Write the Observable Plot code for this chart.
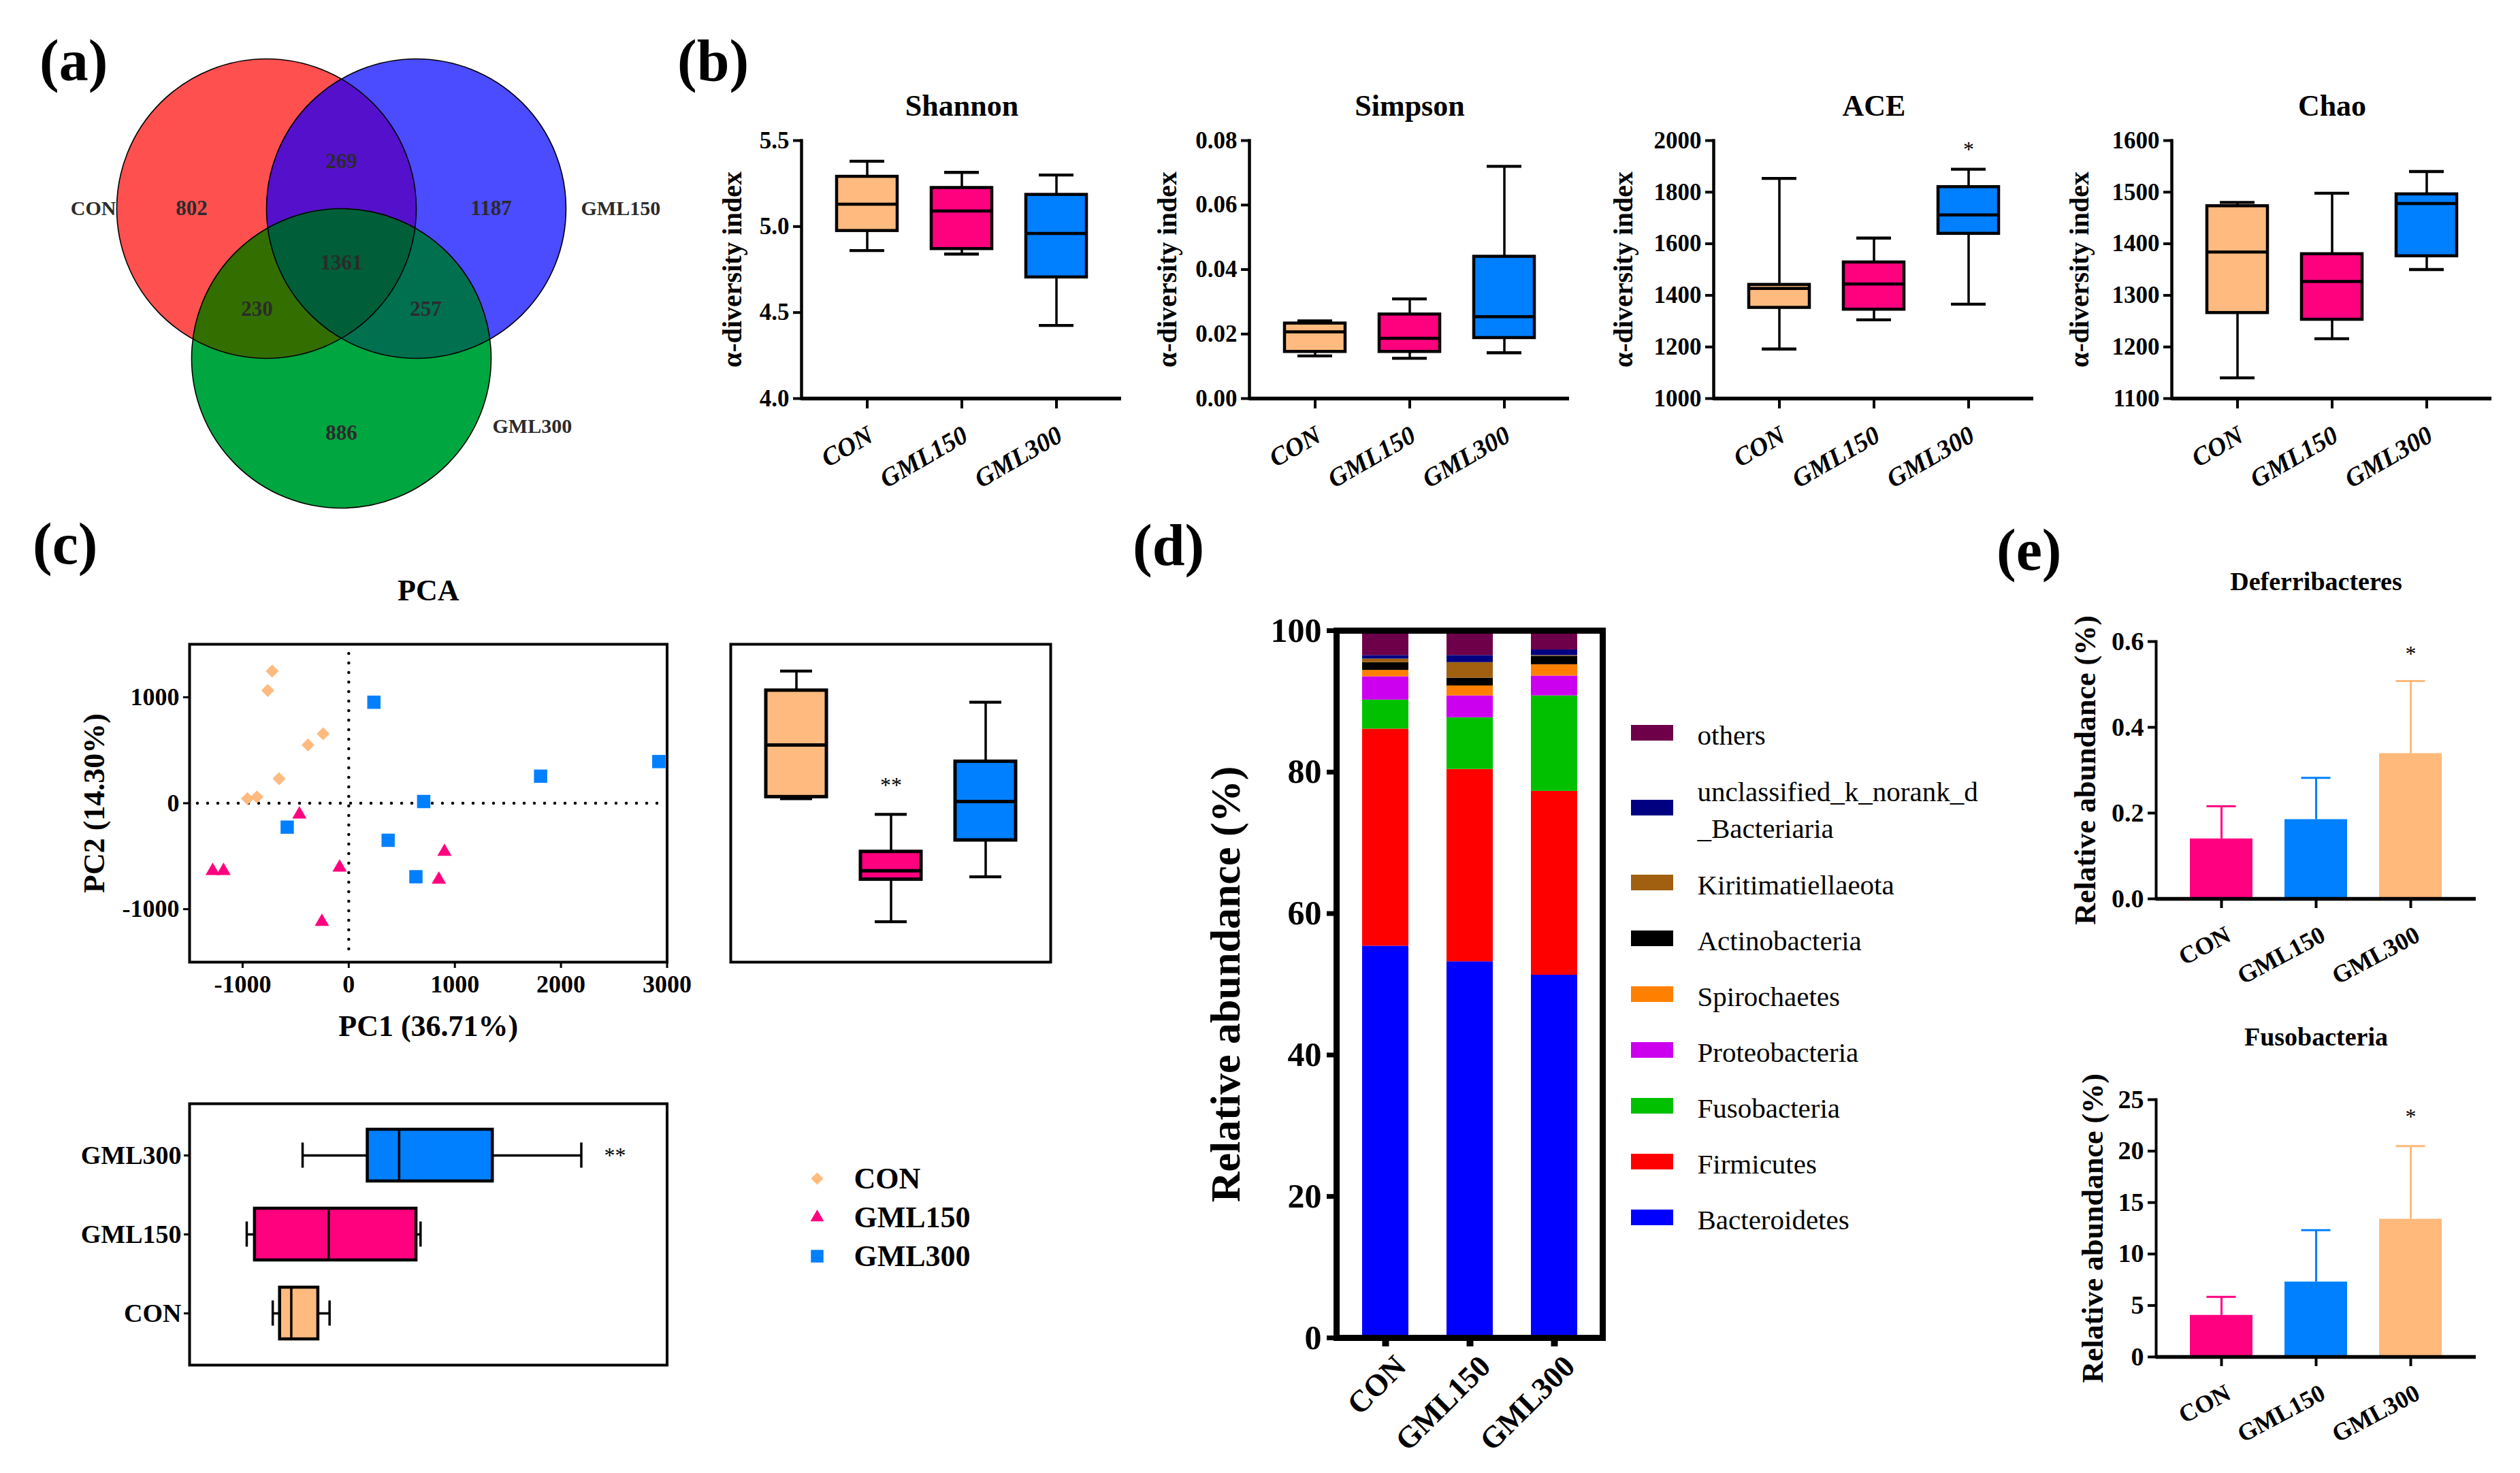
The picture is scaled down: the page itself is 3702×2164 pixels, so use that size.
<!DOCTYPE html>
<html><head><meta charset="utf-8">
<script src="https://cdn.jsdelivr.net/npm/d3@7"></script>
<script src="https://cdn.jsdelivr.net/npm/@observablehq/plot@0.6"></script>
<style>
html,body{margin:0;padding:0;background:#fff;overflow:hidden;}
#page{position:relative;width:3702px;height:2164px;overflow:hidden;background:#fff;font-family:'Liberation Serif','Times New Roman',Times,serif;}
.plabel{position:absolute;font-weight:bold;font-size:86px;line-height:1;white-space:nowrap;}
</style></head><body><div id="page"></div>
<script>
// ---------------- DATA ----------------
const groups = ["CON", "GML150", "GML300"];

// (a) Venn: region membership and OTU counts
const vennRegionSets = [["CON"], ["GML150"], ["GML300"], ["CON","GML150"], ["CON","GML300"], ["GML150","GML300"], ["CON","GML150","GML300"]];
const vennRegionCounts = [802, 1187, 886, 269, 230, 257, 1361];

// (b) alpha diversity, five-number summaries [min, q1, median, q3, max] per group
const alphaTitles = ["Shannon", "Simpson", "ACE", "Chao"];
const shannonStats = [[4.86, 4.975, 5.13, 5.29, 5.38], [4.84, 4.87, 5.09, 5.225, 5.315], [4.425, 4.705, 4.96, 5.185, 5.30]];
const simpsonStats = [[0.0132, 0.0145, 0.0207, 0.0233, 0.0241], [0.0125, 0.0145, 0.0187, 0.0261, 0.0309], [0.0142, 0.0188, 0.0254, 0.0440, 0.0720]];
const aceStats = [[1192, 1352, 1427, 1441, 1853], [1305, 1345, 1444, 1528, 1622], [1366, 1639, 1712, 1820, 1889]];
const chaoStats = [[1140, 1266, 1384, 1473, 1480], [1216, 1253, 1327, 1380, 1498], [1350, 1376, 1478, 1496, 1540]];
const shannonTicks = [4.0, 4.5, 5.0, 5.5];
const simpsonTicks = [0, 0.02, 0.04, 0.06, 0.08];
const aceTicks = [1000, 1200, 1400, 1600, 1800, 2000];
const chaoTicks = [1100, 1200, 1300, 1400, 1500, 1600];
const alphaYLabel = "α-diversity index";
const aceStarValue = 1965;

// (c) PCA scores [PC1, PC2]
const pcaCON = [[-722, 1247], [-763, 1064], [-241, 655], [-384, 550], [-657, 232], [-865, 59], [-955, 43]];
const pcaGML150 = [[-465, -105], [-1282, -638], [-1180, -638], [-86, -606], [-253, -1119], [902, -458], [849, -720]];
const pcaGML300 = [[237, 953], [-580, -226], [371, -350], [706, 16], [633, -694], [1808, 255], [2922, 393]];
const pc1Ticks = [-1000, 0, 1000, 2000, 3000];
const pc2Ticks = [-1000, 0, 1000];
const pc1Label = "PC1 (36.71%)";
const pc2Label = "PC2 (14.30%)";
const pc2StarValue = 167;
const pc1StarValue = 3346;

// (d) phylum relative abundance (%), stacked bottom -> top
const phyla = ["Bacteroidetes", "Firmicutes", "Fusobacteria", "Proteobacteria", "Spirochaetes", "Actinobacteria", "Kiritimatiellaeota", "unclassified_k_norank_d_Bacteriaria", "others"];
const phylaLegendLabels = ["Bacteroidetes", "Firmicutes", "Fusobacteria", "Proteobacteria", "Spirochaetes", "Actinobacteria", "Kiritimatiellaeota", "unclassified_k_norank_d\n_Bacteriaria", "others"];
const abundCON = [55.4, 30.7, 4.1, 3.3, 0.9, 1.1, 0.5, 0.5, 3.5];
const abundGML150 = [53.2, 27.2, 7.3, 3.1, 1.4, 1.1, 2.2, 1.0, 3.5];
const abundGML300 = [51.3, 26.0, 13.5, 2.8, 1.6, 1.2, 0.1, 0.8, 2.7];
const abundTicks = [0, 20, 40, 60, 80, 100];

// (e) mean and error (%) per group
const deferMean = [0.140, 0.185, 0.339];
const deferErr = [0.076, 0.097, 0.169];
const deferTicks = [0, 0.2, 0.4, 0.6];
const fusoMean = [4.05, 7.29, 13.39];
const fusoErr = [1.78, 5.03, 7.09];
const fusoTicks = [0, 5, 10, 15, 20, 25];

// ---------------- STYLE ----------------
const FONT = "'Liberation Serif','Times New Roman',Times,serif";
const boxColors = ["#FFBB7F", "#FF007F", "#007FFF"];
const barColorsE = ["#FF0080", "#0080FF", "#FFB97A"];
const phylaColors = ["#0000FF", "#FF0000", "#00C000", "#CC00EE", "#FF8000", "#000000", "#A06010", "#000080", "#6E004A"];
const vennFill = {
  "CON": "#FF5050", "GML150": "#4B4BFF", "GML300": "#00A640",
  "CON&GML150": "#5510CC", "CON&GML300": "#336E00", "GML150&GML300": "#00704F",
  "CON&GML150&GML300": "#005E38"
};

const page = document.getElementById("page");

function placeSvg(svg, left, top, W, H) {
  const wrap = document.createElement("div");
  Object.assign(wrap.style, {position: "absolute", left: left + "px", top: top + "px", width: W + "px", height: H + "px"});
  wrap.appendChild(svg);
  page.appendChild(wrap);
}
function framed(f, opts) {
  const W = f.x1 - f.x0 + f.ml + f.mr, H = f.y1 - f.y0 + f.mt + f.mb;
  const svg = Plot.plot({
    width: W, height: H,
    marginLeft: f.ml, marginRight: f.mr, marginTop: f.mt, marginBottom: f.mb,
    style: {background: "transparent", overflow: "visible", fontFamily: FONT, color: "black", maxWidth: "none"},
    ...opts
  });
  placeSvg(svg, f.x0 - f.ml, f.y0 - f.mt, W, H);
  return svg;
}
function panelLabel(txt, left, baseline) {
  const d = document.createElement("div");
  d.className = "plabel";
  d.textContent = txt;
  d.style.left = left + "px";
  d.style.top = (baseline - 72) + "px";
  page.appendChild(d);
}
function gpQuantile(s, p) {
  const n = s.length, h = (n + 1) * p - 1;
  if (h <= 0) return s[0];
  if (h >= n - 1) return s[n - 1];
  const i = Math.floor(h), t = h - i;
  return s[i] + t * (s[i + 1] - s[i]);
}
function fiveNum(values) {
  const s = values.slice().sort((a, b) => a - b);
  return [s[0], gpQuantile(s, 0.25), gpQuantile(s, 0.5), gpQuantile(s, 0.75), s[s.length - 1]];
}
function statRows(stats) {
  return groups.map((g, i) => ({group: g, min: stats[i][0], q1: stats[i][1], med: stats[i][2], q3: stats[i][3], max: stats[i][4]}));
}
function vBox(rows, capInset, boxStroke, whisk) {
  return [
    Plot.ruleX(rows, {x: "group", y1: "min", y2: "q1", strokeWidth: whisk}),
    Plot.ruleX(rows, {x: "group", y1: "q3", y2: "max", strokeWidth: whisk}),
    Plot.tickY(rows, {x: "group", y: "min", strokeWidth: whisk + 0.8, insetLeft: capInset, insetRight: capInset}),
    Plot.tickY(rows, {x: "group", y: "max", strokeWidth: whisk + 0.8, insetLeft: capInset, insetRight: capInset}),
    Plot.barY(rows, {x: "group", y1: "q1", y2: "q3", fill: "group", stroke: "black", strokeWidth: boxStroke}),
    Plot.tickY(rows, {x: "group", y: "med", strokeWidth: boxStroke})
  ];
}
function hBox(rows, capInset, boxStroke, whisk) {
  return [
    Plot.ruleY(rows, {y: "group", x1: "min", x2: "q1", strokeWidth: whisk}),
    Plot.ruleY(rows, {y: "group", x1: "q3", x2: "max", strokeWidth: whisk}),
    Plot.tickX(rows, {y: "group", x: "min", strokeWidth: whisk, insetTop: capInset, insetBottom: capInset}),
    Plot.tickX(rows, {y: "group", x: "max", strokeWidth: whisk, insetTop: capInset, insetBottom: capInset}),
    Plot.barX(rows, {y: "group", x1: "q1", x2: "q3", fill: "group", stroke: "black", strokeWidth: boxStroke}),
    Plot.tickX(rows, {y: "group", x: "med", strokeWidth: boxStroke - 1})
  ];
}

// ---------------- (a) VENN ----------------
(function () {
  const layout = {CON: [-0.5, 0], GML150: [0.5, 0], GML300: [0, 1]}; // unit = circle radius
  const R = 220;
  const M = [(layout.CON[0] + layout.GML150[0]) / 2, (layout.CON[1] + layout.GML150[1]) / 2];
  // label positions: single-set labels pushed half a radius outward, overlaps at region centroid
  const regions = vennRegionSets.map((sets, i) => {
    if (sets.length === 1) {
      const c = layout[sets[0]], dx = c[0] - M[0], dy = c[1] - M[1], L = Math.hypot(dx, dy);
      return {x: c[0] + 0.5 * dx / L, y: c[1] + 0.5 * dy / L, count: vennRegionCounts[i]};
    }
    let sx = 0, sy = 0, n = 0;
    for (let x = -2; x <= 2; x += 0.01) for (let y = -1.5; y <= 2.5; y += 0.01) {
      const ok = groups.every(s => (((x - layout[s][0]) ** 2 + (y - layout[s][1]) ** 2) <= 1) === sets.includes(s));
      if (ok) { sx += x; sy += y; n++; }
    }
    return {x: sx / n, y: sy / n, count: vennRegionCounts[i]};
  });
  // filled outline of the intersection of a set of unit circles (convex): vertical extent per x
  function lens(sets) {
    const cs = sets.map(s => layout[s]);
    const xmin = Math.max(...cs.map(c => c[0] - 1)), xmax = Math.min(...cs.map(c => c[0] + 1));
    const pts = [];
    for (let i = 0; i <= 600; i++) {
      const x = xmin + (xmax - xmin) * i / 600;
      let lo = -Infinity, hi = Infinity;
      for (const c of cs) {
        const h = Math.sqrt(Math.max(0, 1 - (x - c[0]) ** 2));
        lo = Math.max(lo, c[1] - h); hi = Math.min(hi, c[1] + h);
      }
      if (lo <= hi) pts.push({x, y1: lo, y2: hi});
    }
    return pts;
  }
  const overlaps = vennRegionSets.filter(s => s.length > 1);
  const svg = Plot.plot({
    width: 950, height: 800, margin: 0,
    style: {background: "transparent", overflow: "visible", fontFamily: FONT, maxWidth: "none"},
    x: {domain: [0, 1], range: [501, 501 + R], axis: null},
    y: {domain: [0, 1], range: [306, 306 + R], axis: null},
    marks: [
      ...groups.map(g => Plot.dot([g], {x: s => layout[s][0], y: s => layout[s][1], r: R, fill: vennFill[g]})),
      ...overlaps.map(s => Plot.areaY(lens(s), {x: "x", y1: "y1", y2: "y2", fill: vennFill[s.join("&")]})),
      Plot.dot(groups, {x: s => layout[s][0], y: s => layout[s][1], r: R, fill: "none", stroke: "black", strokeWidth: 1.6}),
      Plot.text(regions, {x: "x", y: "y", text: d => String(d.count), fontSize: 31, fontWeight: "bold", fill: "#2b2b2b"}),
      Plot.text(["CON"], {x: s => layout[s][0] - 1, y: s => layout[s][1], textAnchor: "end", dx: -1, fontSize: 30, fontWeight: "bold", fill: "#2b2b2b"}),
      Plot.text(["GML150"], {x: s => layout[s][0] + 1, y: s => layout[s][1], textAnchor: "start", dx: 22, fontSize: 30, fontWeight: "bold", fill: "#2b2b2b"}),
      Plot.text(["GML300"], {x: s => layout[s][0] + 1, y: s => layout[s][1] + 0.455, textAnchor: "start", dx: 2, fontSize: 30, fontWeight: "bold", fill: "#2b2b2b"})
    ]
  });
  placeSvg(svg, 0, 0, 950, 800);
})();

// ---------------- (b) ALPHA DIVERSITY ----------------
const alphaSpecs = [
  {title: alphaTitles[0], stats: shannonStats, ticks: shannonTicks, fmt: d3.format(".1f"), left: 1177, labelOff: 101},
  {title: alphaTitles[1], stats: simpsonStats, ticks: simpsonTicks, fmt: d3.format(".2f"), left: 1835, labelOff: 120},
  {title: alphaTitles[2], stats: aceStats, ticks: aceTicks, fmt: d3.format("d"), left: 2517, labelOff: 132, star: aceStarValue},
  {title: alphaTitles[3], stats: chaoStats, ticks: chaoTicks, fmt: d3.format("d"), left: 3190, labelOff: 135}
];
alphaSpecs.forEach(sp => {
  const rows = statRows(sp.stats);
  const y0v = sp.ticks[0], y1v = sp.ticks[sp.ticks.length - 1];
  framed({x0: sp.left, x1: sp.left + 470, y0: 206, y1: 585, ml: 190, mr: 20, mt: 150, mb: 160}, {
    x: {type: "band", domain: groups, paddingInner: 0.36, paddingOuter: 0.36},
    y: {domain: [y0v, y1v]},
    color: {domain: groups, range: boxColors},
    marks: [
      ...vBox(rows, 19, 4.5, 3.5),
      Plot.frame({anchor: "left", strokeWidth: 4.5}),
      Plot.ruleY([y0v], {strokeWidth: 5.5}),
      Plot.axisY({ticks: sp.ticks, tickFormat: sp.fmt, tickSize: 12, tickPadding: 6, strokeWidth: 4, fontSize: 35, fontWeight: "bold", label: null}),
      Plot.axisX({tickSize: 15, strokeWidth: 4, tickFormat: () => "", label: null}),
      Plot.text(groups, {x: d => d, frameAnchor: "bottom", dx: -2, dy: 38, rotate: -30, textAnchor: "end", lineAnchor: "top", fontSize: 38, fontWeight: "bold", fontStyle: "italic"}),
      Plot.text([sp.title], {x: () => groups[1], frameAnchor: "top", dy: -51, lineAnchor: "middle", fontSize: 44, fontWeight: "bold"}),
      Plot.text([alphaYLabel], {frameAnchor: "left", dx: -sp.labelOff, rotate: -90, textAnchor: "middle", lineAnchor: "middle", fontSize: 40, fontWeight: "bold"}),
      ...(sp.star ? [Plot.text([{group: groups[2], v: sp.star}], {x: "group", y: "v", text: () => "*", fontSize: 32})] : [])
    ]
  });
});

// ---------------- (c) PCA ----------------
const pcaSets = [pcaCON, pcaGML150, pcaGML300];
const pcaRows = groups.flatMap((g, i) => pcaSets[i].map(([x, y]) => ({group: g, x, y})));
const pcaSymbols = {CON: ["diamond2", 8.6], GML150: ["triangle", 7.8], GML300: ["square", 11]};
framed({x0: 277.5, x1: 979, y0: 946, y1: 1413, ml: 170, mr: 30, mt: 110, mb: 120}, {
  x: {domain: [-1500, 3000]},
  y: {domain: [-1500, 1500]},
  marks: [
    Plot.ruleX([0], {strokeDasharray: "0 14", strokeLinecap: "round", strokeWidth: 4.5, insetTop: 14, insetBottom: 14}),
    Plot.ruleY([0], {strokeDasharray: "0 15", strokeLinecap: "round", strokeWidth: 4.5, insetLeft: 12, insetRight: 6}),
    ...groups.map((g, i) => Plot.dot(pcaRows.filter(d => d.group === g), {x: "x", y: "y", symbol: pcaSymbols[g][0], r: pcaSymbols[g][1], fill: boxColors[i]})),
    Plot.frame({strokeWidth: 4}),
    Plot.axisX({ticks: pc1Ticks, tickFormat: d => String(d), tickSize: 9, tickPadding: 10, strokeWidth: 3, fontSize: 36, fontWeight: "bold", label: null}),
    Plot.axisY({ticks: pc2Ticks, tickFormat: d => String(d), tickSize: 9, tickPadding: 6, strokeWidth: 3, fontSize: 36, fontWeight: "bold", label: null}),
    Plot.text(["PCA"], {frameAnchor: "top", dy: -79, lineAnchor: "middle", fontSize: 44, fontWeight: "bold"}),
    Plot.text([pc1Label], {frameAnchor: "bottom", dy: 94, lineAnchor: "middle", fontSize: 44, fontWeight: "bold"}),
    Plot.text([pc2Label], {frameAnchor: "left", dx: -140, rotate: -90, textAnchor: "middle", lineAnchor: "middle", fontSize: 44, fontWeight: "bold"})
  ]
});

// PC2 box plot (right of PCA, same y scale)
const pc2Rows = statRows(groups.map((g, i) => fiveNum(pcaSets[i].map(d => d[1]))));
framed({x0: 1073, x1: 1543, y0: 946, y1: 1413, ml: 10, mr: 10, mt: 10, mb: 10}, {
  x: {type: "band", domain: groups, paddingInner: 0.36, paddingOuter: 0.36, axis: null},
  y: {domain: [-1500, 1500], axis: null},
  color: {domain: groups, range: boxColors},
  marks: [
    Plot.frame({strokeWidth: 4}),
    ...vBox(pc2Rows, 21, 5, 3.5),
    Plot.text([{group: groups[1], v: pc2StarValue}], {x: "group", y: "v", text: () => "**", fontSize: 32})
  ]
});

// PC1 box plot (below PCA)
const pc1Rows = statRows(groups.map((g, i) => fiveNum(pcaSets[i].map(d => d[0]))));
framed({x0: 277.5, x1: 979, y0: 1621, y1: 2005, ml: 230, mr: 20, mt: 10, mb: 10}, {
  x: {domain: [-2000, 4000], axis: null},
  y: {type: "band", domain: groups.slice().reverse(), paddingInner: 0.345, paddingOuter: 0.327},
  color: {domain: groups, range: boxColors},
  marks: [
    Plot.frame({strokeWidth: 4}),
    Plot.axisY({tickSize: 8, tickPadding: 4, strokeWidth: 3, fontSize: 38, fontWeight: "bold", label: null}),
    ...hBox(pc1Rows, 19.5, 4.5, 3.5),
    Plot.text([{group: groups[2], v: pc1StarValue}], {x: "v", y: "group", text: () => "**", fontSize: 32})
  ]
});

// PCA legend
(function () {
  const svg = Plot.plot({
    width: 340, height: 200, margin: 0,
    style: {background: "transparent", overflow: "visible", fontFamily: FONT, maxWidth: "none"},
    y: {type: "point", domain: groups, range: [40, 155], padding: 0, axis: null},
    marks: [
      ...groups.map((g, i) => Plot.dot([g], {y: d => d, frameAnchor: "left", dx: 40, symbol: pcaSymbols[g][0], r: pcaSymbols[g][1] * 0.95, fill: boxColors[i]})),
      Plot.text(groups, {y: d => d, frameAnchor: "left", dx: 94, textAnchor: "start", fontSize: 44, fontWeight: "bold"})
    ]
  });
  placeSvg(svg, 1160, 1690, 340, 200);
})();

// ---------------- (d) STACKED BARS ----------------
const abundSets = [abundCON, abundGML150, abundGML300];
const abundRows = groups.flatMap((g, i) => phyla.map((p, k) => ({group: g, phylum: p, value: abundSets[i][k]})));
framed({x0: 1963, x1: 2354, y0: 926, y1: 1965, ml: 230, mr: 20, mt: 20, mb: 190}, {
  x: {type: "band", domain: groups, paddingInner: 0.452, paddingOuter: 0.30},
  y: {domain: [0, 100]},
  color: {domain: phyla, range: phylaColors},
  marks: [
    Plot.barY(abundRows, {x: "group", y: "value", fill: "phylum"}),
    Plot.frame({strokeWidth: 9}),
    Plot.axisY({ticks: abundTicks, tickSize: 14, tickPadding: 8, strokeWidth: 7, fontSize: 50, fontWeight: "bold", label: null}),
    Plot.axisX({tickSize: 13, strokeWidth: 10, tickFormat: () => "", label: null}),
    Plot.text(groups, {x: d => d, frameAnchor: "bottom", dx: 10, dy: 22, rotate: -45, textAnchor: "end", lineAnchor: "top", fontSize: 45, fontWeight: "bold"}),
    Plot.text(["Relative abundance (%)"], {frameAnchor: "left", dx: -162, rotate: -90, textAnchor: "middle", lineAnchor: "middle", fontSize: 62, fontWeight: "bold"})
  ]
});

// legend for (d)
(function () {
  const items = phyla.map((p, k) => ({phylum: p, label: phylaLegendLabels[k]})).reverse();
  let acc = 0;
  items.forEach(it => {
    const lines = it.label.split("\n").length;
    const h = 82 + 56 * (lines - 1);
    it.cy = 76.5 - 41 + acc + h / 2;
    acc += h;
  });
  const svg = Plot.plot({
    width: 460, height: 860, margin: 0,
    style: {background: "transparent", overflow: "visible", fontFamily: FONT, maxWidth: "none"},
    x: {domain: [0, 460], range: [0, 460], axis: null},
    y: {domain: [0, 860], range: [0, 860], axis: null},
    color: {domain: phyla, range: phylaColors},
    marks: [
      Plot.rect(items, {x1: () => 16, x2: () => 78, y1: d => d.cy - 11.5, y2: d => d.cy + 11.5, fill: "phylum"}),
      Plot.text(items, {x: () => 113, y: "cy", text: "label", textAnchor: "start", fontSize: 41, lineHeight: 1.3})
    ]
  });
  placeSvg(svg, 2380, 1000, 460, 860);
})();

// ---------------- (e) BAR + ERROR ----------------
function ePanel(title, means, errs, ticks, fmt, y0, y1, starValue, titleDy, labelOff) {
  const rows = groups.map((g, i) => ({group: g, mean: means[i], top: means[i] + errs[i]}));
  framed({x0: 3167, x1: 3637, y0, y1, ml: 150, mr: 30, mt: 120, mb: 150}, {
    x: {type: "band", domain: groups, paddingInner: 0.336, paddingOuter: 0.347},
    y: {domain: [ticks[0], ticks[ticks.length - 1]]},
    color: {domain: groups, range: barColorsE},
    marks: [
      Plot.ruleX(rows, {x: "group", y1: "mean", y2: "top", stroke: "group", strokeWidth: 3}),
      Plot.tickY(rows, {x: "group", y: "top", stroke: "group", strokeWidth: 3, insetLeft: 24.5, insetRight: 24.5}),
      Plot.barY(rows, {x: "group", y: "mean", fill: "group"}),
      Plot.frame({anchor: "left", strokeWidth: 4}),
      Plot.ruleY([ticks[0]], {strokeWidth: 5.5}),
      Plot.axisY({ticks, tickFormat: fmt, tickSize: 12, tickPadding: 6, strokeWidth: 4, fontSize: 38, fontWeight: "bold", label: null}),
      Plot.axisX({tickSize: 14, strokeWidth: 4, tickFormat: () => "", label: null}),
      Plot.text(groups, {x: d => d, frameAnchor: "bottom", dx: 4, dy: 38, rotate: -28, textAnchor: "end", lineAnchor: "top", fontSize: 36, fontWeight: "bold"}),
      Plot.text([title], {x: () => groups[1], frameAnchor: "top", dy: titleDy, lineAnchor: "middle", fontSize: 38, fontWeight: "bold"}),
      Plot.text(["Relative abundance (%)"], {frameAnchor: "left", dx: -labelOff, rotate: -90, textAnchor: "middle", lineAnchor: "middle", fontSize: 44, fontWeight: "bold"}),
      Plot.text([{group: groups[2], v: starValue}], {x: "group", y: "v", text: () => "*", fontSize: 32})
    ]
  });
}
ePanel("Deferribacteres", deferMean, deferErr, deferTicks, d3.format(".1f"), 942, 1320, 0.571, -88, 104);
ePanel("Fusobacteria", fusoMean, fusoErr, fusoTicks, d3.format("d"), 1615, 1993, 23.3, -92, 93);

// ---------------- PANEL LABELS ----------------
panelLabel("(a)", 58, 118);
panelLabel("(b)", 995, 118);
panelLabel("(c)", 48, 828);
panelLabel("(d)", 1664, 830);
panelLabel("(e)", 2933, 837);
</script></body></html>
